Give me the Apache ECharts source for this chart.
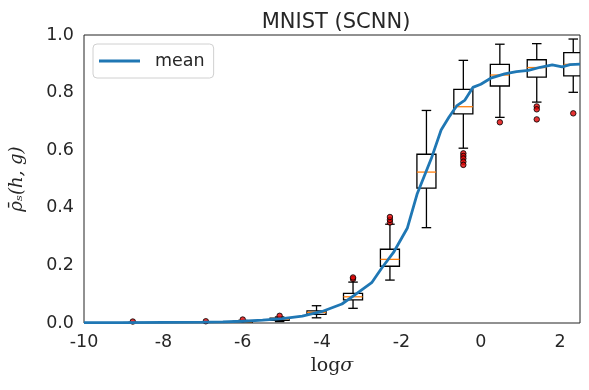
<!DOCTYPE html>
<html>
<head>
<meta charset="utf-8">
<script src="https://cdn.jsdelivr.net/npm/echarts@6/dist/echarts.min.js"></script>
<style>
  html, body { margin: 0; padding: 0; background: #fff; }
  #chart { width: 589px; height: 390px; }
</style>
</head>
<body>
<div id="chart"></div>
<script>
// box positions on log sigma axis
const positions = [-8.77, -7.85, -6.93, -6.0, -5.07, -4.14, -3.22, -2.29, -1.37, -0.44, 0.48, 1.41, 2.33];
const whiskLow  = [0.000, 0.000, 0.000, 0.001, 0.005, 0.018, 0.051, 0.149, 0.331, 0.607, 0.714, 0.767, 0.801];
const q1        = [0.0005, 0.0005, 0.001, 0.002, 0.009, 0.030, 0.080, 0.197, 0.468, 0.726, 0.823, 0.854, 0.858];
const medians   = [0.001, 0.001, 0.002, 0.004, 0.013, 0.037, 0.091, 0.221, 0.524, 0.751, 0.861, 0.887, 0.898];
const q3        = [0.0015, 0.0015, 0.003, 0.006, 0.017, 0.042, 0.103, 0.256, 0.586, 0.811, 0.898, 0.914, 0.939];
const whiskHigh = [0.002, 0.002, 0.004, 0.009, 0.021, 0.060, 0.142, 0.343, 0.738, 0.912, 0.968, 0.970, 0.986];

// outliers [x, value]
const outliers = [
  [-8.77, 0.005], [-6.93, 0.006], [-6.0, 0.012], [-5.07, 0.025],
  [-3.22, 0.153], [-3.22, 0.158],
  [-2.29, 0.349], [-2.29, 0.358], [-2.29, 0.368],
  [-0.44, 0.589], [-0.44, 0.580], [-0.44, 0.571], [-0.44, 0.560], [-0.44, 0.549],
  [0.48, 0.697],
  [1.41, 0.752], [1.41, 0.742], [1.41, 0.707],
  [2.33, 0.728]
];

// mean curve
const meanX = [-10, -9, -8, -7, -6.5, -6, -5.5, -5, -4.5, -4, -3.5, -3.2, -2.75, -2.5, -2.2, -1.85, -1.6, -1.25, -1.0, -0.8, -0.6, -0.4, -0.2, 0.0, 0.25, 0.6, 0.9, 1.2, 1.5, 1.8, 2.05, 2.25, 2.5];
const meanY = [0.001, 0.001, 0.002, 0.003, 0.004, 0.006, 0.010, 0.015, 0.024, 0.040, 0.066, 0.095, 0.140, 0.190, 0.245, 0.330, 0.450, 0.570, 0.670, 0.715, 0.755, 0.774, 0.818, 0.829, 0.850, 0.865, 0.873, 0.877, 0.888, 0.896, 0.889, 0.897, 0.899];

const textColor = '#262626';
const boxWidth = 0.48;

let boxData = positions.map((x, i) => [x, whiskLow[i], q1[i], medians[i], q3[i], whiskHigh[i]]);
let meanData = meanX.map((x, i) => [x, meanY[i]]);

function renderBox(params, api) {
  let x = api.value(0);
  let lo = api.coord([x, api.value(1)]);
  let b1 = api.coord([x, api.value(2)]);
  let md = api.coord([x, api.value(3)]);
  let b3 = api.coord([x, api.value(4)]);
  let hi = api.coord([x, api.value(5)]);
  let w = api.size([boxWidth, 0])[0];
  let cx = lo[0];
  let stroke = { stroke: '#000', lineWidth: 1.3, fill: null };
  return {
    type: 'group',
    children: [
      { type: 'line', shape: { x1: cx, y1: b1[1], x2: cx, y2: lo[1] }, style: stroke },
      { type: 'line', shape: { x1: cx, y1: b3[1], x2: cx, y2: hi[1] }, style: stroke },
      { type: 'line', shape: { x1: cx - w / 4, y1: lo[1], x2: cx + w / 4, y2: lo[1] }, style: stroke },
      { type: 'line', shape: { x1: cx - w / 4, y1: hi[1], x2: cx + w / 4, y2: hi[1] }, style: stroke },
      { type: 'rect', shape: { x: cx - w / 2, y: b3[1], width: w, height: b1[1] - b3[1] }, style: stroke },
      { type: 'line', shape: { x1: cx - w / 2, y1: md[1], x2: cx + w / 2, y2: md[1] }, style: { stroke: '#ff7f0e', lineWidth: 1.3 } }
    ]
  };
}

let chart = echarts.init(document.getElementById('chart'));
chart.setOption({
  animation: false,
  backgroundColor: '#fff',
  title: {
    text: 'MNIST (SCNN)',
    left: 331,
    textAlign: 'center',
    top: 7,
    textStyle: { fontFamily: 'DejaVu Sans', fontSize: 21, fontWeight: 'normal', color: textColor }
  },
  legend: {
    data: [{ name: 'mean', icon: 'rect' }],
    left: 93,
    top: 44,
    padding: [8, 9, 8, 6],
    borderColor: '#d0d0d0',
    borderWidth: 1,
    borderRadius: 4,
    itemWidth: 41,
    itemHeight: 3,
    textStyle: { fontFamily: 'DejaVu Sans', fontSize: 17.5, color: textColor, padding: [0, 0, 0, 10] }
  },
  grid: {
    left: 83, right: 9, top: 35, bottom: 67,
    show: true, borderColor: '#222', borderWidth: 1
  },
  xAxis: {
    type: 'value',
    min: -10, max: 2.5, interval: 2,
    name: '{a|log}{b|σ}',
    nameLocation: 'middle',
    nameGap: 34,
    nameTextStyle: {
      color: textColor,
      rich: {
        a: { fontFamily: 'DejaVu Serif', fontSize: 19, color: textColor },
        b: { fontFamily: 'DejaVu Serif', fontStyle: 'italic', fontSize: 19, color: textColor }
      }
    },
    axisLine: { show: false },
    axisTick: { show: false },
    splitLine: { show: false },
    axisLabel: { fontFamily: 'DejaVu Sans', fontSize: 17.5, color: textColor, margin: 10, showMaxLabel: false }
  },
  yAxis: {
    type: 'value',
    min: 0, max: 1, interval: 0.2,
    name: 'ρ̄ₛ(h, g)',
    nameLocation: 'middle',
    nameGap: 58,
    nameTextStyle: { fontFamily: 'DejaVu Serif', fontStyle: 'italic', fontSize: 18, color: textColor },
    axisLine: { show: false },
    axisTick: { show: false },
    splitLine: { show: false },
    axisLabel: {
      fontFamily: 'DejaVu Sans', fontSize: 17.5, color: textColor, margin: 10,
      formatter: v => v.toFixed(1)
    }
  },
  series: [
    {
      type: 'custom',
      renderItem: renderBox,
      data: boxData,
      clip: true,
      z: 2
    },
    {
      type: 'scatter',
      data: outliers,
      symbol: 'circle',
      symbolSize: 5.5,
      itemStyle: { color: '#e00000', borderColor: '#000', borderWidth: 1 },
      z: 3
    },
    {
      name: 'mean',
      type: 'line',
      data: meanData,
      symbol: 'none',
      lineStyle: { color: '#1f77b4', width: 2.8 },
      itemStyle: { color: '#1f77b4' },
      z: 4
    }
  ]
});
</script>
</body>
</html>
